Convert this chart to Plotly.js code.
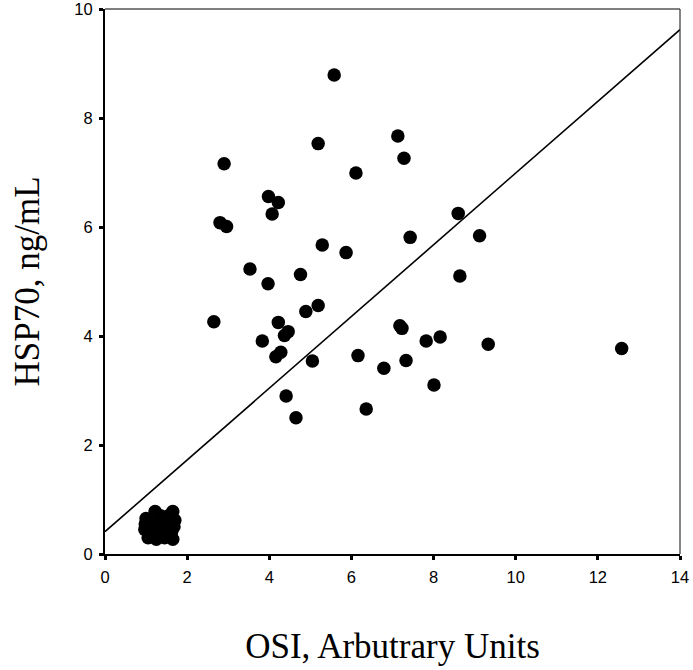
<!DOCTYPE html>
<html>
<head>
<meta charset="utf-8">
<script src="https://cdn.plot.ly/plotly-3.0.1.min.js"></script>
<style>html,body{margin:0;padding:0;background:#fff;}#chart{width:693px;height:670px;}</style>
</head>
<body>
<div id="chart"></div>
<script>
// Scattered patients (OSI vs HSP70)
const osi = [2.90,5.19,7.13,7.28,6.11,3.98,4.22,4.07,2.80,2.96,8.60,9.12,7.43,5.29,5.87,3.53,4.76,3.97,8.64,5.19,4.89,2.65,4.22,4.46,4.37,3.83,4.28,4.16,7.18,7.23,7.82,8.16,9.33,5.05,6.16,7.33,6.79,8.01,4.41,4.65,6.36,12.58,5.58];
const hsp70 = [7.16,7.53,7.67,7.26,6.99,6.56,6.45,6.24,6.08,6.01,6.25,5.84,5.81,5.67,5.53,5.23,5.13,4.96,5.10,4.56,4.45,4.26,4.25,4.08,4.01,3.91,3.70,3.62,4.19,4.14,3.91,3.98,3.85,3.54,3.64,3.55,3.41,3.10,2.90,2.50,2.66,3.77,8.79];
// Cluster of low values near the origin
const osiLow = [1.00,1.22,1.65,0.97,1.05,1.25,1.45,1.65,1.68,1.70,1.30,1.45,1.15,1.50,1.35,1.10,1.55,1.20,1.40,0.98,1.62];
const hspLow = [0.65,0.78,0.78,0.45,0.30,0.27,0.30,0.27,0.50,0.62,0.50,0.60,0.55,0.45,0.70,0.40,0.70,0.35,0.38,0.55,0.40];
// Regression line
const intercept = 0.41;
const slope = 0.658;
const lineX = [0, 14];
const lineY = lineX.map(x => intercept + slope * x);
const xTicks = [0,2,4,6,8,10,12,14];
const yTicks = [0,2,4,6,8,10];

const markerStyle = {color: '#000', size: 13.5, line: {width: 0}};
const traces = [
  {x: lineX, y: lineY, mode: 'lines', line: {color: '#000', width: 1.6}, hoverinfo: 'skip', cliponaxis: true},
  {x: osi, y: hsp70, mode: 'markers', marker: markerStyle, cliponaxis: false},
  {x: osiLow, y: hspLow, mode: 'markers', marker: markerStyle, cliponaxis: false}
];
const tickFont = {family: 'Liberation Sans, Arial, sans-serif', size: 16.5, color: '#000'};
const titleFont = {family: 'Liberation Serif, Times New Roman, serif', size: 35, color: '#000'};
const layout = {
  width: 693, height: 670,
  margin: {l: 105, r: 13, t: 9, b: 116},
  paper_bgcolor: '#fff', plot_bgcolor: '#fff',
  showlegend: false,
  font: {family: 'Liberation Sans, Arial, sans-serif', color: '#000', size: 16},
  xaxis: {
    range: [0, 14], tickvals: xTicks, ticktext: xTicks.map(String),
    showgrid: false, zeroline: false, showline: true, linecolor: '#000', linewidth: 2,
    ticks: 'outside', ticklen: 4, tickwidth: 3, tickcolor: '#000',
    tickfont: tickFont, ticklabeloverflow: 'allow', ticklabelstandoff: 3,
    title: {text: 'OSI, Arbutrary Units', font: titleFont, standoff: 49},
    automargin: false
  },
  yaxis: {
    range: [0, 10], tickvals: yTicks, ticktext: yTicks.map(String),
    showgrid: false, zeroline: false, showline: true, linecolor: '#000', linewidth: 2,
    ticks: 'outside', ticklen: 4, tickwidth: 3, tickcolor: '#000',
    tickfont: tickFont, ticklabeloverflow: 'allow', ticklabelstandoff: 3,
    title: {text: 'HSP70, ng/mL', font: titleFont, standoff: 24},
    automargin: false
  },
  shapes: [
    {type: 'line', xref: 'paper', yref: 'paper', x0: 0, x1: 1, y0: 1, y1: 1, line: {color: '#000', width: 1.2}},
    {type: 'line', xref: 'paper', yref: 'paper', x0: 1, x1: 1, y0: 0, y1: 1, line: {color: '#333', width: 1.2}}
  ]
};
Plotly.newPlot('chart', traces, layout, {displayModeBar: false, staticPlot: true});
</script>
</body>
</html>
